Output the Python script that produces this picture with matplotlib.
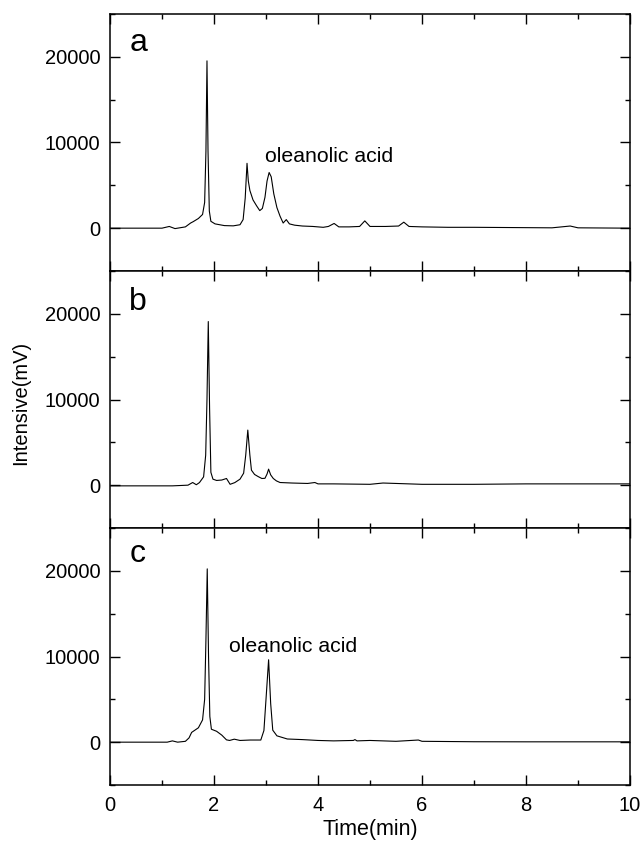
# HPLC chromatograms a/b/c stacked, shared time axis, oleanolic acid peak marked.
import numpy as np
import matplotlib
matplotlib.use("Agg")
import matplotlib.pyplot as plt
from matplotlib.ticker import MultipleLocator

plt.rcParams["font.family"] = ["Liberation Sans", "DejaVu Sans"]

# values (time in min, intensity in mV)
t_a = [0, 1.0, 1.14, 1.25, 1.45, 1.55, 1.60, 1.70, 1.78, 1.82, 1.845, 1.865, 1.885, 1.91,
       1.94, 2.02, 2.2, 2.37, 2.5, 2.56, 2.60, 2.635, 2.66, 2.69, 2.75, 2.82, 2.88, 2.93,
       2.98, 3.02, 3.06, 3.10, 3.15, 3.21, 3.27, 3.33, 3.39, 3.45, 3.55, 3.7, 3.9, 4.1,
       4.2, 4.31, 4.4, 4.6, 4.8, 4.9, 5.0, 5.3, 5.55, 5.65, 5.75, 6.0, 6.5, 7.0, 7.5,
       8.0, 8.5, 8.85, 9.0, 9.5, 10.0]
v_a = [0, 0, 200, -50, 150, 600, 760, 1130, 1600, 3000, 9000, 19530, 9000, 2000,
       800, 500, 300, 270, 400, 1000, 3500, 7570, 5500, 4400, 3300, 2600, 2050, 2300,
       3600, 5500, 6500, 6000, 4000, 2400, 1400, 600, 1000, 500, 350, 250, 200, 100,
       200, 550, 150, 150, 200, 850, 200, 200, 250, 700, 200, 150, 100, 100, 80,
       60, 40, 250, 40, 20, 0]

t_b = [0, 1.2, 1.5, 1.59, 1.66, 1.72, 1.80, 1.84, 1.865, 1.89, 1.915, 1.94, 1.98, 2.05,
       2.15, 2.24, 2.31, 2.40, 2.50, 2.57, 2.61, 2.65, 2.69, 2.72, 2.78, 2.85, 2.92, 2.98,
       3.02, 3.05, 3.09, 3.14, 3.2, 3.27, 3.5, 3.8, 3.94, 4.0, 4.3, 5.0, 5.25, 6.0, 7.0,
       8.0, 9.0, 10.0]
v_b = [-80, -80, 0, 310, 50, 300, 970, 3500, 10000, 19100, 9000, 1500, 700, 550,
       600, 780, 100, 300, 700, 1400, 3500, 6430, 3500, 1750, 1250, 1000, 780, 800,
       1300, 1870, 1200, 780, 500, 310, 250, 200, 310, 150, 150, 100, 250, 100, 100,
       150, 150, 150]

t_c = [0, 1.1, 1.2, 1.3, 1.45, 1.52, 1.57, 1.70, 1.78, 1.82, 1.845, 1.87, 1.895, 1.92,
       1.95, 2.05, 2.15, 2.24, 2.30, 2.39, 2.5, 2.7, 2.90, 2.96, 3.00, 3.05, 3.09, 3.13,
       3.21, 3.41, 3.7, 4.0, 4.3, 4.68, 4.71, 4.75, 5.0, 5.5, 5.93, 6.0, 7.0, 8.0, 9.0, 10.0]
v_c = [0, 0, 150, 0, 100, 500, 1140, 1680, 2600, 5000, 12000, 20230, 10000, 3000,
       1510, 1270, 820, 270, 200, 350, 200, 250, 250, 1360, 5000, 9620, 4500, 1400,
       740, 370, 300, 200, 150, 200, 300, 150, 200, 100, 250, 100, 50, 40, 40, 40]

panels = [("a", t_a, v_a, (2.98, 7720), 0.856),
          ("b", t_b, v_b, None, 0.848),
          ("c", t_c, v_c, (2.29, 10560), 0.868)]
label_text = "oleanolic acid"

fig = plt.figure(figsize=(6.43, 8.43), dpi=100)
left, width, height = 110 / 643, 520 / 643, 257 / 843
bottoms = [(843 - 271) / 843, (843 - 528) / 843, (843 - 785) / 843]

for (tag, t, v, note, ty), b in zip(panels, bottoms):
    ax = fig.add_axes([left, b, width, height])
    ax.plot(t, v, color="black", lw=0.8)
    ax.set_xlim(0, 10); ax.set_ylim(-5000, 25000)
    ax.xaxis.set_major_locator(MultipleLocator(2)); ax.xaxis.set_minor_locator(MultipleLocator(1))
    ax.yaxis.set_major_locator(MultipleLocator(10000)); ax.yaxis.set_minor_locator(MultipleLocator(5000))
    ax.tick_params(which="both", direction="in", top=True, right=True, width=1.0)
    ax.tick_params(which="major", length=7, labelsize=14.5)
    ax.tick_params(which="minor", length=3.6)
    ax.tick_params(axis="y", pad=7); ax.tick_params(axis="x", pad=8)
    for s in ax.spines.values():
        s.set_linewidth(1.1)
    ax.text(0.037, ty, tag, transform=ax.transAxes, fontsize=23, va="baseline")
    if note:
        ax.text(note[0], note[1], label_text, fontsize=15.3, va="baseline")
    if tag != "c":
        ax.tick_params(labelbottom=False)

fig.text(21 / 643, 1 - 403 / 843, "Intensive(mV)", rotation=90, ha="center", va="center", fontsize=14.5)
fig.text(370 / 643, 1 - 830 / 843, "Time(min)", ha="center", va="center", fontsize=15.5)
fig.savefig("out.png", dpi=100)
